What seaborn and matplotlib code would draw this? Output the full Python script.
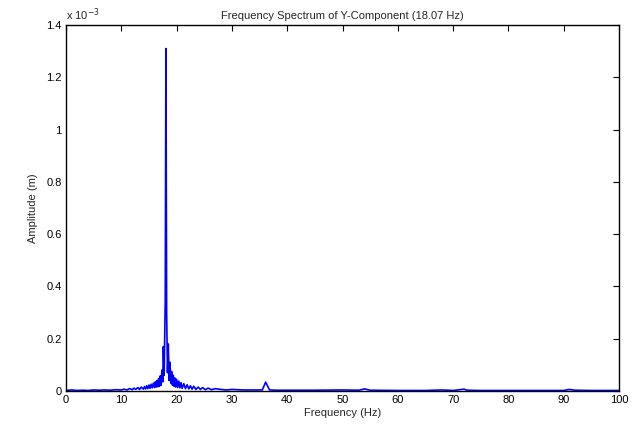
import matplotlib
matplotlib.use("Agg")
import matplotlib.pyplot as plt
import seaborn as sns
import pandas as pd

# Frequency (Hz)
freq_hz = [0, 1, 2, 3, 4, 5, 6, 7, 8, 9,
           10, 10.5, 11, 11.5, 12, 12.3, 12.6, 13, 13.3, 13.6, 14, 14.2, 14.4,
           14.6, 14.8, 15, 15.2, 15.4, 15.6, 15.8, 16, 16.15, 16.3, 16.45,
           16.6, 16.75, 16.9, 17.05, 17.2, 17.35, 17.5, 17.6, 17.75, 17.95,
           18.07, 18.2, 18.35, 18.5, 18.65, 18.8, 18.95, 19.1, 19.25, 19.4,
           19.55, 19.7, 19.85, 20, 20.2, 20.4, 20.6, 20.8, 21, 21.3, 21.6,
           21.9, 22.2, 22.5, 22.8, 23.1, 23.5, 23.9, 24.3, 24.7, 25.2, 25.7,
           26.3, 27, 28, 29, 30, 32, 34, 35.5, 36.1, 36.8, 38,
           40, 45, 50, 53, 54, 55,
           60, 65, 68, 70, 72, 72.5, 75,
           80, 85, 90, 91, 92, 95, 100]
# Amplitude (x 1e-3 m)
amp_e3 = [0.002, 0.004, 0.002, 0.003, 0.002, 0.004, 0.003, 0.004, 0.003, 0.005,
          0.004, 0.007, 0.004, 0.009, 0.005, 0.011, 0.006, 0.013, 0.006, 0.015, 0.007, 0.017, 0.008,
          0.020, 0.009, 0.023, 0.010, 0.026, 0.012, 0.030, 0.013, 0.035, 0.015, 0.040,
          0.016, 0.048, 0.018, 0.058, 0.022, 0.080, 0.035, 0.170, 0.060, 0.350,
          1.310, 0.300, 0.070, 0.180, 0.040, 0.110, 0.030, 0.075, 0.022, 0.060,
          0.018, 0.050, 0.015, 0.045, 0.013, 0.038, 0.012, 0.032, 0.010, 0.028, 0.009,
          0.024, 0.008, 0.020, 0.007, 0.018, 0.006, 0.015, 0.006, 0.013, 0.005, 0.011,
          0.005, 0.009, 0.006, 0.004, 0.006, 0.004, 0.004, 0.004, 0.034, 0.004, 0.003,
          0.003, 0.003, 0.004, 0.003, 0.008, 0.003,
          0.002, 0.002, 0.004, 0.002, 0.007, 0.003, 0.002,
          0.002, 0.002, 0.002, 0.006, 0.003, 0.002, 0.002]

x_ticks = [0, 10, 20, 30, 40, 50, 60, 70, 80, 90, 100]
y_ticks = [0, 0.2, 0.4, 0.6, 0.8, 1.0, 1.2, 1.4]
y_tick_labels = ["0", "0.2", "0.4", "0.6", "0.8", "1", "1.2", "1.4"]

df = pd.DataFrame({"f": freq_hz, "a": amp_e3})

sns.set_style("white")
plt.rcParams["font.family"] = ["Liberation Sans", "DejaVu Sans"]

fig = plt.figure(figsize=(6.42, 4.24), dpi=100)
ax = fig.add_axes([66/642, 1 - 391/424, (619-66)/642, (391-25)/424])

sns.lineplot(data=df, x="f", y="a", ax=ax, color="#0000ff", linewidth=1.2, sort=False)

ax.set_xlim(0, 100)
ax.set_ylim(0, 1.4)
ax.set_xticks(x_ticks)
ax.set_xticklabels([str(t) for t in x_ticks])
ax.set_yticks(y_ticks)
ax.set_yticklabels(y_tick_labels)
ax.tick_params(direction="in", top=True, right=True, length=4, width=0.8,
               labelsize=8, pad=3, color="black", labelcolor="black")
for s in ax.spines.values():
    s.set_visible(True)
    s.set_color("black")
    s.set_linewidth(1.0)

ax.set_title("Frequency Spectrum of Y-Component (18.07 Hz)", fontsize=8, pad=4)
ax.set_xlabel("Frequency (Hz)", fontsize=8, labelpad=2)
ax.set_ylabel("Amplitude (m)", fontsize=8, labelpad=6)
ax.text(0.0, 1.005, r"x 10$^{-3}$", transform=ax.transAxes, fontsize=8,
        ha="left", va="bottom")

fig.savefig("out.png", dpi=100, facecolor="white")
